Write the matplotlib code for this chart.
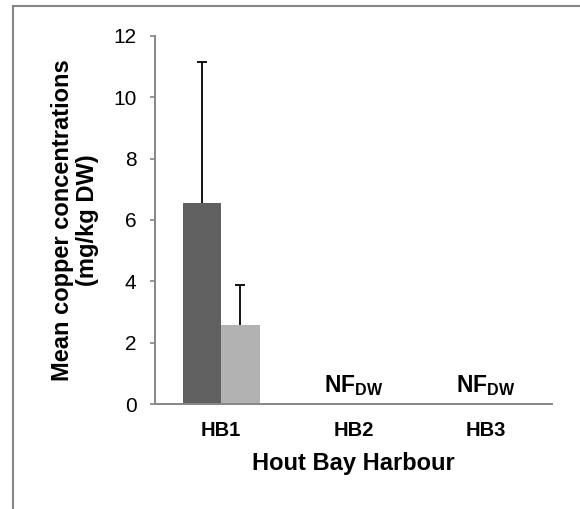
import matplotlib
matplotlib.use("Agg")
import matplotlib.pyplot as plt
from matplotlib.lines import Line2D
import numpy as np

plt.rcParams['font.family'] = ['Liberation Sans', 'DejaVu Sans']
plt.rcParams['mathtext.fontset'] = 'custom'
plt.rcParams['mathtext.rm'] = 'Liberation Sans'
plt.rcParams['mathtext.bf'] = 'Liberation Sans:bold'

sites = ["HB1", "HB2", "HB3"]
series_a = [6.54, 0, 0]
series_a_err = [4.6, 0, 0]
series_b = [2.58, 0, 0]
series_b_err = [1.3, 0, 0]
not_found = [False, True, True]
yticks = [0, 2, 4, 6, 8, 10, 12]

W, H = 580, 509
fig = plt.figure(figsize=(W / 100, H / 100), dpi=100)
ax = fig.add_axes([155 / W, 1 - 404 / H, (552 - 155) / W, (404 - 36) / H])

x = np.arange(len(sites))
bw = 0.29
ax.bar(x - bw / 2, series_a, bw, color="#606060", zorder=2)
ax.bar(x + bw / 2, series_b, bw, color="#b2b2b2", zorder=2)

for offs, vals, errs in [(-bw / 2, series_a, series_a_err), (bw / 2, series_b, series_b_err)]:
    idx = [i for i, e in enumerate(errs) if e > 0]
    _, caps, _ = ax.errorbar([x[i] + offs for i in idx], [vals[i] for i in idx],
                             yerr=[[0] * len(idx), [errs[i] for i in idx]], fmt="none",
                             ecolor="black", elinewidth=1.3, capsize=3.6, capthick=1.3,
                             zorder=3)
    caps[0].set_visible(False)  # no lower cap

for i, nf in enumerate(not_found):
    if nf:
        ax.text(x[i], 0.39, r"$\mathbf{NF}_{\mathbf{DW}}$", ha="center", va="baseline",
                fontsize=16.5)

ax.set_xlim(-0.5, 2.5)
ax.set_ylim(0, 12)
ax.set_yticks(yticks)
ax.set_yticklabels([str(v) for v in yticks], fontsize=15)
ax.set_xticks(x)
ax.set_xticklabels(sites, fontsize=14.5, fontweight="bold")
ax.tick_params(axis="x", length=0, pad=12)
ax.tick_params(axis="y", length=3.3, width=1.2, color="#868686", pad=10, direction="out")

for s in ["top", "right"]:
    ax.spines[s].set_visible(False)
for s in ["left", "bottom"]:
    ax.spines[s].set_color("#868686")
    ax.spines[s].set_linewidth(1.4)

ax.set_xlabel("Hout Bay Harbour", fontsize=17, fontweight="bold", labelpad=9)
ax.set_ylabel("Mean copper concentrations\n(mg/kg DW)", fontsize=17, fontweight="bold",
              labelpad=10, linespacing=1.1)

# figure frame (left and top edges visible)
fig.add_artist(Line2D([13 / W, 13 / W], [0, 1 - 5.5 / H], transform=fig.transFigure,
                      color="#868686", linewidth=1.5))
fig.add_artist(Line2D([13 / W, 1], [1 - 5.5 / H, 1 - 5.5 / H], transform=fig.transFigure,
                      color="#868686", linewidth=1.5))

fig.savefig("out.png", dpi=100, facecolor="white")
